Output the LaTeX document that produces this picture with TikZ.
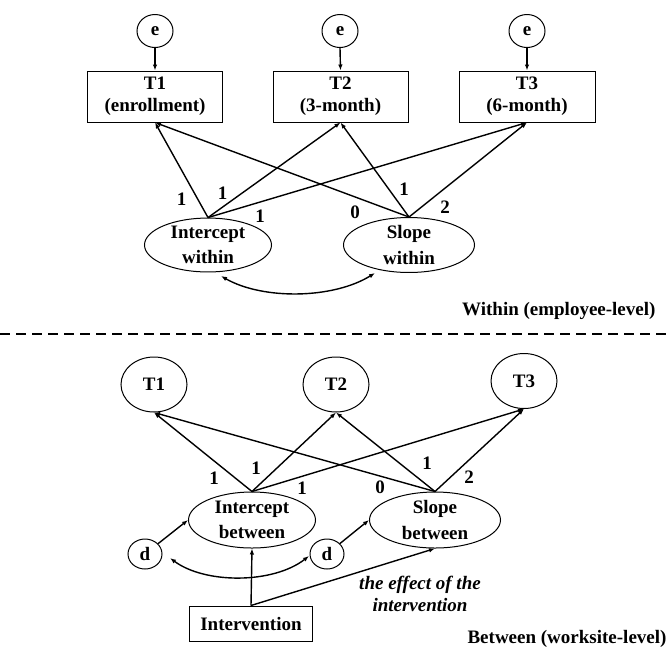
\documentclass[tikz,border=0pt]{standalone}
\usepackage{fontspec}
\setmainfont{Liberation Serif}
\usetikzlibrary{arrows.meta,shapes.geometric}
\begin{document}
\begin{tikzpicture}[x=1pt,y=-1pt,
  txt/.style={font=\fontsize{19}{22}\selectfont\bfseries},
  lat/.style={draw,ellipse,line width=1pt,inner sep=0pt,align=center,font=\fontsize{19}{25.5}\selectfont\bfseries},
  obs/.style={draw,rectangle,line width=1pt,inner sep=0pt,align=center,font=\fontsize{19}{22}\selectfont\bfseries},
  reg/.style={line width=1.4pt,-{Latex[length=6pt,width=4.5pt]}},
  cov/.style={line width=1.4pt,{Latex[length=6pt,width=4.5pt]}-{Latex[length=6pt,width=4.5pt]}},
  coef/.style={inner sep=0pt,font=\fontsize{19}{22}\selectfont\bfseries},
  sep/.style={line width=1.2pt,dash pattern=on 10pt off 6pt},
]
\useasboundingbox (0,0) rectangle (672,649);

% ---------- Within ----------
\node[lat,minimum width=36pt,minimum height=33pt] (e1) at (155,31) {e};
\node[lat,minimum width=36pt,minimum height=33pt] (e2) at (340,31) {e};
\node[lat,minimum width=36pt,minimum height=33pt] (e3) at (527,31) {e};

\node[obs,minimum width=135pt,minimum height=51pt] (t1) at (155,96.5) {T1\\(enrollment)};
\node[obs,minimum width=135pt,minimum height=51pt] (t2) at (340.5,96.5) {T2\\(3-month)};
\node[obs,minimum width=136pt,minimum height=51pt] (t3) at (527,96.5) {T3\\(6-month)};

\node[lat,minimum width=127pt,minimum height=49pt] (iw) at (208,245) {Intercept\\within};
\node[lat,minimum width=131pt,minimum height=49pt] (sw) at (409,245) {Slope\\within};

\draw[reg] (e1.south) -- (t1.north);
\draw[reg] (e2.south) -- (t2.north);
\draw[reg] (e3.south) -- (t3.north);

\draw[reg] (iw.north) -- (t1.south);
\draw[reg] (iw.north) -- (t2.south);
\draw[reg] (iw.north) -- (t3.south);
\draw[reg] (sw.north) -- (t1.south);
\draw[reg] (sw.north) -- (t2.south);
\draw[reg] (sw.north) -- (t3.south);

\node[coef] (wl1) at (181.5,199.5) {1};
\node[coef] (wl2) at (222.5,193) {1};
\node[coef] (wl3) at (260,216) {1};
\node[coef] (wl4) at (355,212.5) {0};
\node[coef] (wl5) at (404,189) {1};
\node[coef] (wl6) at (445,207.5) {2};

\coordinate (cwa) at (221,276);
\coordinate (cwb) at (375,273);
\draw[cov] (cwa) .. controls (263,300) and (333,299) .. (cwb);

\node[txt,anchor=base east] (wlab) at (659,315) {Within (employee-level)};

% ---------- separator ----------
\coordinate (sl) at (0,334);
\coordinate (sr) at (672,334);
\draw[sep] (sl) -- (sr);

% ---------- Between ----------
\node[lat,minimum width=66pt,minimum height=55pt] (b1) at (154,384.5) {T1};
\node[lat,minimum width=66pt,minimum height=55pt] (b2) at (336,384.5) {T2};
\node[lat,minimum width=66pt,minimum height=55pt] (b3) at (524,381) {T3};

\node[lat,minimum width=127pt,minimum height=56pt] (ib) at (252,520) {Intercept\\between};
\node[lat,minimum width=131pt,minimum height=56pt] (sb) at (435,520) {Slope\\between};

\draw[reg] (ib.north) -- (b1.south);
\draw[reg] (ib.north) -- (b2.south);
\draw[reg] (ib.north) -- (b3.south);
\draw[reg] (sb.north) -- (b1.south);
\draw[reg] (sb.north) -- (b2.south);
\draw[reg] (sb.north) -- (b3.south);

\node[coef] (bl1) at (214,478) {1};
\node[coef] (bl2) at (256,468) {1};
\node[coef] (bl3) at (302,488) {1};
\node[coef] (bl4) at (380,487) {0};
\node[coef] (bl5) at (427,463) {1};
\node[coef] (bl6) at (469,477) {2};

\node[lat,minimum width=34pt,minimum height=30pt] (dl) at (145,554) {d};
\node[lat,minimum width=34pt,minimum height=30pt] (dr) at (327,554) {d};
\draw[reg] (dl) -- (ib.west);
\draw[reg] (dr) -- (sb.west);

\coordinate (cba) at (170,558);
\coordinate (cbb) at (309,556);
\draw[cov] (cba) .. controls (205,584) and (273,584) .. (cbb);

\node[obs,minimum width=123pt,minimum height=35pt] (iv) at (251,623.5) {Intervention};
\draw[reg] (iv.north) -- (ib.south);
\draw[reg] (iv.north) -- (sb.south);

\node[txt,align=center,font=\fontsize{19}{22}\selectfont\bfseries\itshape] (eff) at (420,594) {the effect of the\\intervention};

\node[txt,anchor=base east] (blab) at (670,643) {Between (worksite-level)};
\end{tikzpicture}
\end{document}
